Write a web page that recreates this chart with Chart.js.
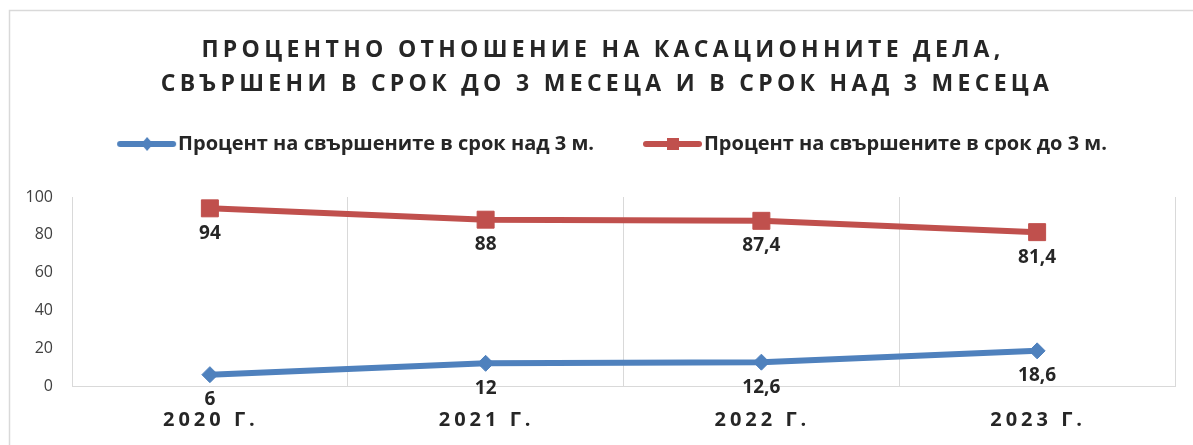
<!DOCTYPE html>
<html>
<head>
<meta charset="utf-8">
<script src="https://cdn.jsdelivr.net/npm/chart.js@4/dist/chart.umd.min.js"></script>
<style>
  html, body { margin: 0; padding: 0; background: #fff; }
  canvas { display: block; }
</style>
</head>
<body>
<canvas id="myChart" width="1193" height="445"></canvas>
<script>
// data
const years = ["2020 Г.", "2021 Г.", "2022 Г.", "2023 Г."];
const over3 = [6, 12, 12.6, 18.6];
const upTo3 = [94, 88, 87.4, 81.4];
const seriesNames = ["Процент на свършените в срок над 3 м.", "Процент на свършените в срок до 3 м."];
const titleLines = ["ПРОЦЕНТНО ОТНОШЕНИЕ НА КАСАЦИОННИТЕ ДЕЛА,", "СВЪРШЕНИ В СРОК ДО 3 МЕСЕЦА И В СРОК НАД 3 МЕСЕЦА"];
const yTicks = [0, 20, 40, 60, 80, 100];

const blue = "#4F81BD";
const red = "#C0504D";
const textDark = "#262626";
const gridGrey = "#d9d9d9";
const font = "'Open Sans', 'DejaVu Sans', sans-serif";

// legend swatch: line with marker in the middle
function makeSwatch(color, marker) {
    let c = document.createElement("canvas");
    c.width = 110; c.height = 18;
    let g = c.getContext("2d");
    g.strokeStyle = color; g.fillStyle = color;
    g.lineWidth = 6; g.lineCap = "round";
    g.beginPath(); g.moveTo(52, 9); g.lineTo(105, 9); g.stroke();
    let cx = 79;
    if (marker == "diamond") {
        g.beginPath(); g.moveTo(cx, 2); g.lineTo(cx + 6, 9); g.lineTo(cx, 16); g.lineTo(cx - 6, 9); g.closePath(); g.fill();
    } else {
        g.fillRect(cx - 6, 3, 12, 12);
    }
    return c;
}
const swatches = [makeSwatch(blue, "diamond"), makeSwatch(red, "square")];

function fmt(v) { return String(v).replace(".", ","); }

const extras = {
    id: "extras",
    beforeInit(chart) {
        // extra room between the legend and the plot
        let fit = chart.legend.fit;
        chart.legend.fit = function () {
            fit.call(this);
            this.height += 33;
        };
    },
    beforeDraw(chart) {
        let ctx = chart.ctx;
        ctx.save();
        ctx.strokeStyle = gridGrey;
        ctx.lineWidth = 1.5;
        ctx.strokeRect(9.5, 10.5, 1300, 1000);
        ctx.restore();
    },
    afterDatasetsDraw(chart) {
        let ctx = chart.ctx;
        ctx.save();
        ctx.font = "bold 19px " + font;
        ctx.fillStyle = textDark;
        ctx.textAlign = "center";
        ctx.textBaseline = "middle";
        chart.data.datasets.forEach((ds, i) => {
            let meta = chart.getDatasetMeta(i);
            meta.data.forEach((pt, j) => {
                ctx.fillText(fmt(ds.data[j]), pt.x, pt.y + 25);
            });
        });
        ctx.restore();
    },
    afterDraw(chart) {
        let ctx = chart.ctx;
        ctx.save();
        ctx.fillStyle = textDark;
        ctx.textAlign = "center";
        ctx.textBaseline = "middle";
        ctx.letterSpacing = "4.3px";
        ctx.font = "bold 23px " + font;
        ctx.fillText(titleLines[0], 603, 50);
        ctx.fillText(titleLines[1], 607, 84);
        ctx.letterSpacing = "4px";
        ctx.font = "bold 20px " + font;
        let xs = chart.scales.x;
        years.forEach((y, i) => {
            ctx.fillText(y, xs.getPixelForValue(i) + 1, 420);
        });
        ctx.restore();
    }
};

const ctx = document.getElementById("myChart").getContext("2d");
const myChart = new Chart(ctx, {
    type: "line",
    data: {
        labels: years,
        datasets: [
            {
                label: seriesNames[0], data: over3,
                borderColor: blue, backgroundColor: blue, borderWidth: 6,
                pointStyle: "rectRot", pointRadius: 8, pointHoverRadius: 8,
                pointBackgroundColor: blue, pointBorderColor: blue, pointBorderWidth: 1
            },
            {
                label: seriesNames[1], data: upTo3,
                borderColor: red, backgroundColor: red, borderWidth: 6,
                pointStyle: "rect", pointRadius: 12, pointHoverRadius: 12,
                pointBackgroundColor: red, pointBorderColor: red, pointBorderWidth: 1
            }
        ]
    },
    options: {
        responsive: false,
        animation: false,
        layout: { padding: { top: 124, left: 10, right: 18, bottom: 59 } },
        plugins: {
            title: { display: false },
            tooltip: { enabled: false },
            legend: {
                position: "top",
                labels: {
                    usePointStyle: true,
                    pointStyleWidth: 90,
                    padding: 10,
                    color: textDark,
                    font: { family: font, size: 20, weight: "bold" },
                    generateLabels(chart) {
                        let items = Chart.defaults.plugins.legend.labels.generateLabels(chart);
                        items.forEach((it, i) => { it.pointStyle = swatches[i]; });
                        return items;
                    }
                }
            }
        },
        scales: {
            x: {
                offset: true,
                grid: { offset: true, color: gridGrey, drawTicks: false },
                border: { color: gridGrey },
                ticks: { display: false }
            },
            y: {
                min: 0, max: 100,
                afterFit(scale) { scale.width = 62; },
                afterBuildTicks(scale) { scale.ticks = yTicks.map(v => ({ value: v })); },
                grid: { display: false, drawTicks: false },
                border: { display: true, color: gridGrey },
                ticks: { padding: 19, color: "#404040", font: { family: font, size: 16 } }
            }
        }
    },
    plugins: [extras]
});
</script>
</body>
</html>
